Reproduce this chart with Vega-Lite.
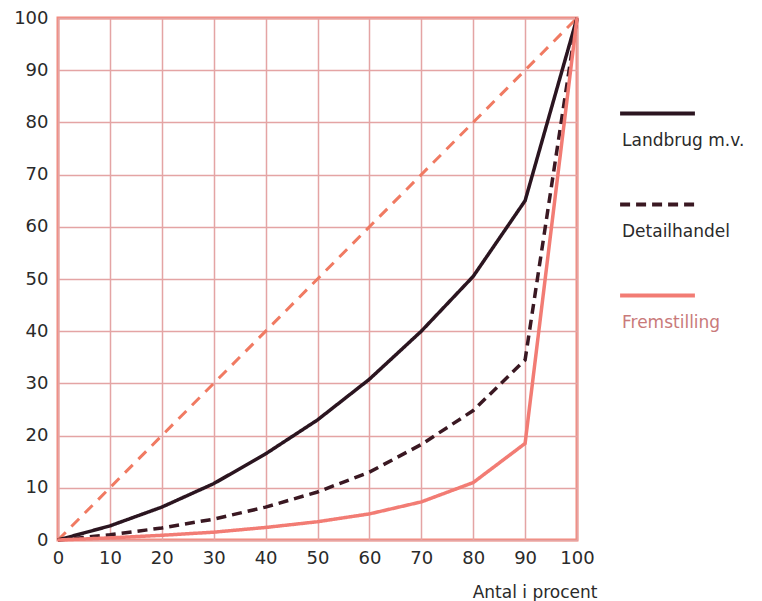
{
  "$schema": "https://vega.github.io/schema/vega-lite/v6.json",
  "autosize": "none",
  "width": 519,
  "height": 522,
  "padding": {"left": 58, "top": 18, "right": 185, "bottom": 61},
  "background": "white",
  "config": {
    "font": "DejaVu Sans",
    "view": {"stroke": "#f28a7e", "strokeWidth": 3},
    "axis": {"domain": false, "ticks": false, "gridColor": "#e4a4a4", "gridWidth": 1.5, "gridOpacity": 1, "labelColor": "#2a2a2a", "labelFontSize": 18, "labelFont": "DejaVu Sans", "labelFlush": false, "labelOverlap": false}
  },
  "datasets": {
    "diag": [{"x": 0, "y": 0}, {"x": 100, "y": 100}],
    "curves": [
      {"x": 0, "y": 0, "serie": "Landbrug m.v."},
      {"x": 10, "y": 2.7, "serie": "Landbrug m.v."},
      {"x": 20, "y": 6.3, "serie": "Landbrug m.v."},
      {"x": 30, "y": 10.8, "serie": "Landbrug m.v."},
      {"x": 40, "y": 16.5, "serie": "Landbrug m.v."},
      {"x": 50, "y": 23, "serie": "Landbrug m.v."},
      {"x": 60, "y": 30.8, "serie": "Landbrug m.v."},
      {"x": 70, "y": 40, "serie": "Landbrug m.v."},
      {"x": 80, "y": 50.5, "serie": "Landbrug m.v."},
      {"x": 90, "y": 65, "serie": "Landbrug m.v."},
      {"x": 100, "y": 100, "serie": "Landbrug m.v."},
      {"x": 0, "y": 0, "serie": "Detailhandel"},
      {"x": 10, "y": 1, "serie": "Detailhandel"},
      {"x": 20, "y": 2.3, "serie": "Detailhandel"},
      {"x": 30, "y": 4, "serie": "Detailhandel"},
      {"x": 40, "y": 6.3, "serie": "Detailhandel"},
      {"x": 50, "y": 9.2, "serie": "Detailhandel"},
      {"x": 60, "y": 13, "serie": "Detailhandel"},
      {"x": 70, "y": 18.3, "serie": "Detailhandel"},
      {"x": 80, "y": 24.8, "serie": "Detailhandel"},
      {"x": 90, "y": 34.5, "serie": "Detailhandel"},
      {"x": 100, "y": 100, "serie": "Detailhandel"},
      {"x": 0, "y": 0, "serie": "Fremstilling"},
      {"x": 10, "y": 0.4, "serie": "Fremstilling"},
      {"x": 20, "y": 0.9, "serie": "Fremstilling"},
      {"x": 30, "y": 1.5, "serie": "Fremstilling"},
      {"x": 40, "y": 2.4, "serie": "Fremstilling"},
      {"x": 50, "y": 3.5, "serie": "Fremstilling"},
      {"x": 60, "y": 5, "serie": "Fremstilling"},
      {"x": 70, "y": 7.3, "serie": "Fremstilling"},
      {"x": 80, "y": 11, "serie": "Fremstilling"},
      {"x": 90, "y": 18.5, "serie": "Fremstilling"},
      {"x": 100, "y": 100, "serie": "Fremstilling"}
    ]
  },
  "layer": [
    {
      "data": {"name": "diag"},
      "mark": {"type": "line", "color": "#f07a62", "strokeWidth": 3, "strokeDash": [11, 8]},
      "encoding": {
        "x": {"field": "x", "type": "quantitative", "scale": {"domain": [0, 100], "nice": false},
          "axis": {"values": [0,10,20,30,40,50,60,70,80,90,100], "labelPadding": 9, "title": "Antal i procent", "titleFontSize": 17, "titleFontWeight": "normal", "titleColor": "#2a2a2a", "titleAlign": "right", "titleAnchor": "end", "titleX": 539, "titleY": 57, "titleBaseline": "alphabetic"}},
        "y": {"field": "y", "type": "quantitative", "scale": {"domain": [0, 100], "nice": false},
          "axis": {"values": [0,10,20,30,40,50,60,70,80,90,100], "labelPadding": 10, "title": null}}
      }
    },
    {
      "data": {"name": "curves"},
      "mark": {"type": "line", "strokeWidth": 3.5},
      "encoding": {
        "x": {"field": "x", "type": "quantitative"},
        "y": {"field": "y", "type": "quantitative"},
        "color": {"field": "serie", "type": "nominal",
          "scale": {"domain": ["Landbrug m.v.", "Detailhandel", "Fremstilling"], "range": ["#2b1520", "#3a1822", "#f27c74"]},
          "legend": {
            "orient": "none", "legendX": 560, "legendY": 56, "title": null,
            "symbolType": "stroke", "symbolSize": 5600, "symbolStrokeWidth": 4,
            "labelFontSize": 17, "labelColor": "#2a2a2a", "labelLimit": 300, "labelOffset": -75,
            "rowPadding": 16,
            "encode": {"labels": {"update": {"dy": {"value": 27}, "fill": [{"test": "datum.value === 'Fremstilling'", "value": "#c97a7a"}, {"value": "#2a2a2a"}]}}}
          }},
        "strokeDash": {"field": "serie", "type": "nominal",
          "scale": {"domain": ["Landbrug m.v.", "Detailhandel", "Fremstilling"], "range": [[1, 0], [10, 6], [1, 0]]},
          "legend": null},
        "detail": {"field": "serie"}
      }
    }
  ]
}
